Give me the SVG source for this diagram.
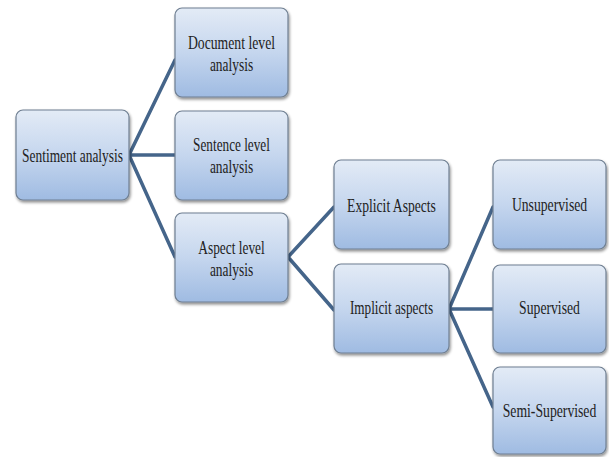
<svg xmlns="http://www.w3.org/2000/svg" width="609" height="457" viewBox="0 0 609 457">
<defs>
<linearGradient id="g" x1="0" y1="0" x2="0" y2="1">
<stop offset="0" stop-color="#e3ebf6"/>
<stop offset="0.5" stop-color="#c5d6ee"/>
<stop offset="1" stop-color="#9fbbe2"/>
</linearGradient>
<filter id="sh" x="-10%" y="-10%" width="125%" height="130%">
<feGaussianBlur in="SourceAlpha" stdDeviation="1.5"/>
<feOffset dx="1" dy="2" result="b"/>
<feComponentTransfer><feFuncA type="linear" slope="0.45"/></feComponentTransfer>
<feMerge><feMergeNode/><feMergeNode in="SourceGraphic"/></feMerge>
</filter>
</defs>
<style>
.box{fill:url(#g);stroke:#6f7f92;stroke-width:1.2;filter:url(#sh)}
.t{font-family:"Liberation Serif","Times New Roman",serif;font-size:18px;fill:#222222;text-anchor:middle}
.c{stroke:#45658a;stroke-width:3.5;fill:none;stroke-linecap:round}
</style>
<rect width="609" height="457" fill="#ffffff"/>
<g id="connectors">
<path class="c" d="M129,155 L175,60 M129,155 L175,155 M129,155 L175,257"/>
<path class="c" d="M288,257 L334,207 M288,257 L334,310"/>
<path class="c" d="M449,309 L493,207 M449,309 L493,309 M449,309 L493,407"/>
</g>
<g id="sentiment">
<rect class="box" x="16" y="110" width="113" height="90" rx="7"/>
<text class="t" transform="translate(72.5,162) scale(0.8,1)" textLength="126" lengthAdjust="spacingAndGlyphs">Sentiment analysis</text>
</g>
<g id="document">
<rect class="box" x="175" y="8" width="113" height="89" rx="7"/>
<text class="t" transform="translate(231.5,49) scale(0.8,1)" textLength="109" lengthAdjust="spacingAndGlyphs">Document level</text>
<text class="t" transform="translate(231.5,71) scale(0.8,1)" textLength="54" lengthAdjust="spacingAndGlyphs">analysis</text>
</g>
<g id="sentence">
<rect class="box" x="175" y="111" width="113" height="89" rx="7"/>
<text class="t" transform="translate(231.5,151) scale(0.8,1)" textLength="96" lengthAdjust="spacingAndGlyphs">Sentence level</text>
<text class="t" transform="translate(231.5,173) scale(0.8,1)" textLength="54" lengthAdjust="spacingAndGlyphs">analysis</text>
</g>
<g id="aspect">
<rect class="box" x="175" y="213" width="113" height="89" rx="7"/>
<text class="t" transform="translate(231.5,254) scale(0.8,1)" textLength="83" lengthAdjust="spacingAndGlyphs">Aspect level</text>
<text class="t" transform="translate(231.5,276) scale(0.8,1)" textLength="54" lengthAdjust="spacingAndGlyphs">analysis</text>
</g>
<g id="explicit">
<rect class="box" x="334" y="160" width="115" height="89" rx="7"/>
<text class="t" transform="translate(391.5,212) scale(0.8,1)" textLength="111" lengthAdjust="spacingAndGlyphs">Explicit Aspects</text>
</g>
<g id="implicit">
<rect class="box" x="334" y="264" width="115" height="89" rx="7"/>
<text class="t" transform="translate(391.5,314) scale(0.8,1)" textLength="104" lengthAdjust="spacingAndGlyphs">Implicit aspects</text>
</g>
<g id="unsupervised">
<rect class="box" x="493" y="160" width="113" height="89" rx="7"/>
<text class="t" transform="translate(549.5,211) scale(0.8,1)" textLength="94" lengthAdjust="spacingAndGlyphs">Unsupervised</text>
</g>
<g id="supervised">
<rect class="box" x="493" y="265" width="113" height="88" rx="7"/>
<text class="t" transform="translate(549.5,314) scale(0.8,1)" textLength="76" lengthAdjust="spacingAndGlyphs">Supervised</text>
</g>
<g id="semi">
<rect class="box" x="493" y="367" width="113" height="87" rx="7"/>
<text class="t" transform="translate(549.5,417) scale(0.8,1)" textLength="117" lengthAdjust="spacingAndGlyphs">Semi-Supervised</text>
</g>
</svg>
